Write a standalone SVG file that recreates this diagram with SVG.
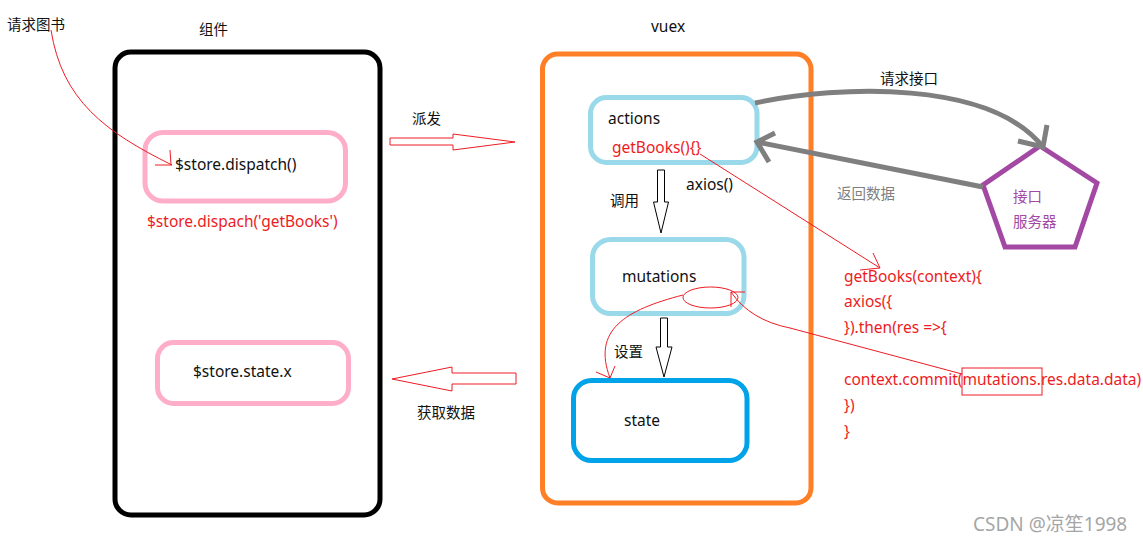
<svg xmlns="http://www.w3.org/2000/svg" width="1143" height="543" viewBox="0 0 1143 543">
<style>
text{font-family:"Noto Sans","Noto Sans CJK SC",sans-serif;font-size:15.5px;fill:#111}
.cn{font-family:"Noto Sans CJK SC","Noto Sans",sans-serif;font-size:14.5px}
.red{fill:#ed1c24}
.box{fill:none;stroke-width:5}
.rl{fill:none;stroke:#ed1c24;stroke-width:1}
.gl{fill:none;stroke:#7f7f7f;stroke-width:5}
.blk{fill:#fff;stroke:#000;stroke-width:1}
.rblk{fill:#fff;stroke:#ed1c24;stroke-width:1}
</style>
<rect width="1143" height="543" fill="#fff"/>

<g id="label-request-books"><text class="cn" x="7" y="30">请求图书</text></g>

<g id="component">
<rect class="box" x="115" y="52" width="265" height="463" rx="16" stroke="#000"/>
<text class="cn" x="199" y="35">组件</text>
</g>

<g id="dispatch">
<rect class="box" x="145" y="132.5" width="200.5" height="68.5" rx="18" stroke="#ffaec9" stroke-width="4.5"/>
<text x="175" y="170">$store.dispatch()</text>
<text class="red" x="147" y="227">$store.dispach('getBooks')</text>
</g>

<g id="state-x">
<rect class="box" x="157.5" y="342.5" width="191" height="61" rx="16" stroke="#ffaec9" stroke-width="4.5"/>
<text x="193" y="377">$store.state.x</text>
</g>

<g id="vuex">
<rect class="box" x="542.5" y="54" width="268.5" height="449" rx="15" stroke="#ff7f27"/>
<text x="651" y="32">vuex</text>
</g>

<g id="actions">
<rect class="box" x="590.5" y="97.5" width="166.5" height="65" rx="16" stroke="#99d9ea"/>
<text x="608" y="124">actions</text>
<text class="red" x="612" y="153">getBooks(){}</text>
</g>

<g id="mutations">
<rect class="box" x="592.5" y="239.5" width="151.5" height="74" rx="18" stroke="#99d9ea"/>
<text x="622" y="282">mutations</text>
</g>

<g id="state">
<rect class="box" x="573.5" y="380.5" width="173.5" height="80" rx="18" stroke="#00a2e8"/>
<text x="624" y="426">state</text>
</g>

<g id="server">
<polygon class="box" points="1040,146 1097,183 1075,247 1005,247 983,185" stroke="#a349a4"/>
<text class="cn" x="1013" y="202" style="fill:#a349a4">接口</text>
<text class="cn" x="1013" y="227" style="fill:#a349a4">服务器</text>
</g>

<g id="code">
<text class="red" x="844" y="282">getBooks(context){</text>
<text class="red" x="844" y="307">axios({</text>
<text class="red" x="844" y="333">}).then(res =&gt;{</text>
<text class="red" x="844" y="385">context.commit(mutations.res.data.data)</text>
<text class="red" x="844" y="411">})</text>
<text class="red" x="844" y="437">}</text>
<rect class="rl" x="962" y="368" width="80" height="27"/>
</g>

<g id="connectors">
<!-- 请求图书 -> dispatch -->
<path class="rl" d="M51,30 C62,100 105,132 172,165"/>
<path class="rl" d="M155,165 L172,165 M170,150 L171,165"/>
<!-- 派发 -->
<polygon class="rblk" points="390,138 453,138 453,134 515,142 453,150 453,145 390,145"/>
<text class="cn" x="412" y="124">派发</text>
<!-- 获取数据 -->
<polygon class="rblk" points="516,373 452,373 452,367 392,379 452,391 452,384 516,384"/>
<text class="cn" x="417" y="418">获取数据</text>
<!-- actions -> mutations -->
<polygon class="blk" points="657.5,170 664.5,170 664.5,202 668.5,202 661,233 653.5,202 657.5,202"/>
<text class="cn" x="610" y="206">调用</text>
<text x="686" y="190">axios()</text>
<!-- mutations -> state -->
<polygon class="blk" points="660.5,318 667.5,318 667.5,347 672,347 664,377 656,347 660.5,347"/>
<!-- 设置 -->
<ellipse class="rl" cx="710.5" cy="297.5" rx="27.5" ry="10.5"/>
<path class="rl" d="M683,295 C625,310 592,330 610,378"/>
<path class="rl" d="M596,372 L610,378 L615,366"/>
<text class="cn" x="614" y="357">设置</text>
<!-- getBooks -> code -->
<path class="rl" d="M700,154 L880,268"/>
<path class="rl" d="M860,270 L880,268 L873,253"/>
<!-- mutations -> commit -->
<path class="rl" d="M731,292 Q750,320 790,328 L962,374"/>
<path class="rl" d="M731,307 L731,292 L745,292"/>
<!-- 请求接口 -->
<path class="gl" d="M755,103 C840,85 990,80 1043,147"/>
<path class="gl" d="M1047,125 L1043,147 L1018,141"/>
<text class="cn" x="880" y="84">请求接口</text>
<!-- 返回数据 -->
<path class="gl" d="M983,187 L757,142"/>
<path class="gl" d="M775,133 L757,142 L769,162"/>
<text class="cn" x="837" y="199" style="fill:#7f7f7f">返回数据</text>
</g>

<g id="watermark"><text x="973" y="531" style="font-size:19px;fill:#a6a6a6">CSDN @凉笙1998</text></g>
</svg>
